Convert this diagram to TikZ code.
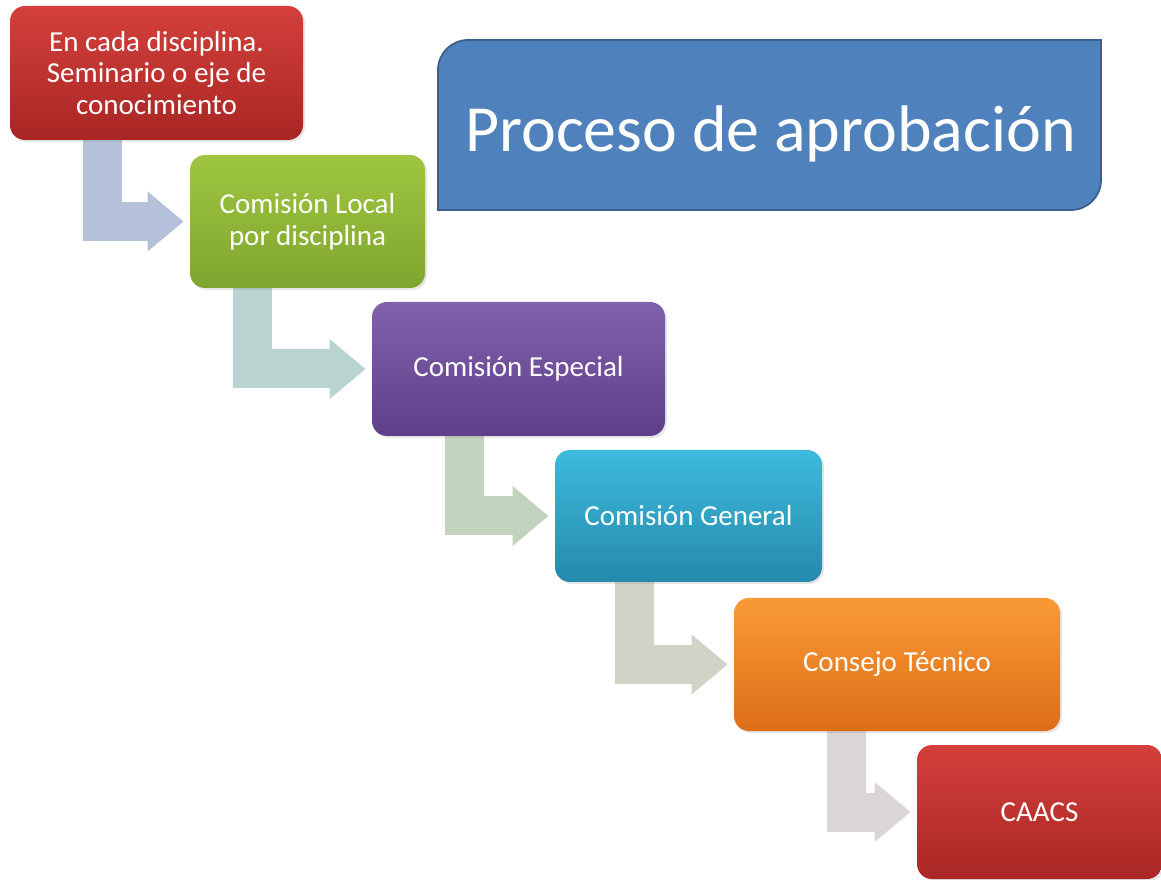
\documentclass[tikz,border=0pt]{standalone}
\usepackage{fontspec}
\setmainfont{Carlito}
\usepackage{tikz}
\usetikzlibrary{arrows.meta,backgrounds,shadows}
\definecolor{redtop}{HTML}{D4403B}
\definecolor{redbot}{HTML}{A92624}
\definecolor{greentop}{HTML}{9FC640}
\definecolor{greenbot}{HTML}{7FA52F}
\definecolor{purpletop}{HTML}{8261AC}
\definecolor{purplebot}{HTML}{5F3F8A}
\definecolor{tealtop}{HTML}{3DBBDD}
\definecolor{tealbot}{HTML}{2589AC}
\definecolor{orangetop}{HTML}{F99A36}
\definecolor{orangebot}{HTML}{DD6E18}
\definecolor{titleblue}{HTML}{4F81BD}
\definecolor{titleedge}{HTML}{3A5F8C}
\definecolor{flowa}{HTML}{B5C1DA}
\definecolor{flowb}{HTML}{B9D3D0}
\definecolor{flowc}{HTML}{C2D4BE}
\definecolor{flowd}{HTML}{D2D3C7}
\definecolor{flowe}{HTML}{DCD5D6}
\tikzstyle{stage} = [rounded corners=0.3cm, text=white, align=center, minimum height=2.66cm, font=\fontsize{16.5}{18}\selectfont, drop shadow={opacity=0.2,shadow xshift=0.04cm,shadow yshift=-0.04cm}]
\tikzstyle{flow}  = [line width=0.78cm, -{Triangle[length=0.72cm,width=1.15cm]}, shorten >=0.12cm]

\begin{document}
\begin{tikzpicture}
           \useasboundingbox (0,0) rectangle (23.22,17.58);
           \draw[titleedge, line width=1pt, fill=titleblue] (8.76,13.38) -- (8.76,16.18) arc[start angle=180, end angle=90, radius=0.6] -- (22.02,16.78) -- (22.02,13.98) arc[start angle=0, end angle=-90, radius=0.6] -- cycle;
           \node[text=white, font=\fontsize{37.5}{40}\selectfont](title)at(15.41, 14.90){Proceso de aprobación};
           \node[stage, top color=redtop, bottom color=redbot, minimum width=5.86cm, minimum height=2.68cm](seminario)at(3.13, 16.12){En cada disciplina.\\Seminario o eje de\\conocimiento};
           \node[stage, top color=greentop, bottom color=greenbot, minimum width=4.70cm](comlocal)at(6.15, 13.15){Comisión Local\\por disciplina};
           \node[stage, top color=purpletop, bottom color=purplebot, minimum width=5.86cm, minimum height=2.68cm](comespecial)at(10.37, 10.20){Comisión Especial};
           \node[stage, top color=tealtop, bottom color=tealbot, minimum width=5.34cm, minimum height=2.64cm](comgeneral)at(13.77, 7.26){Comisión General};
           \node[stage, top color=orangetop, bottom color=orangebot, minimum width=6.52cm](consejo)at(17.94, 4.29){Consejo Técnico};
           \node[stage, top color=redtop, bottom color=redbot, minimum width=4.90cm, minimum height=2.68cm](caacs)at(20.79, 1.34){CAACS};
           % bent arrows under the boxes
           \begin{scope}[on background layer]
           \coordinate(s1)at(2.04, 14.9);
           \coordinate(s2)at(5.04, 11.9);
           \coordinate(s3)at(9.28, 8.96);
           \coordinate(s4)at(12.68, 6.04);
           \coordinate(s5)at(16.92, 3.06);
           \draw[flow, flowa](s1) |- (comlocal.west);
           \draw[flow, flowb](s2) |- (comespecial.west);
           \draw[flow, flowc](s3) |- (comgeneral.west);
           \draw[flow, flowd](s4) |- (consejo.west);
           \draw[flow, flowe](s5) |- (caacs.west);
           \end{scope}
\end{tikzpicture}
\end{document}
